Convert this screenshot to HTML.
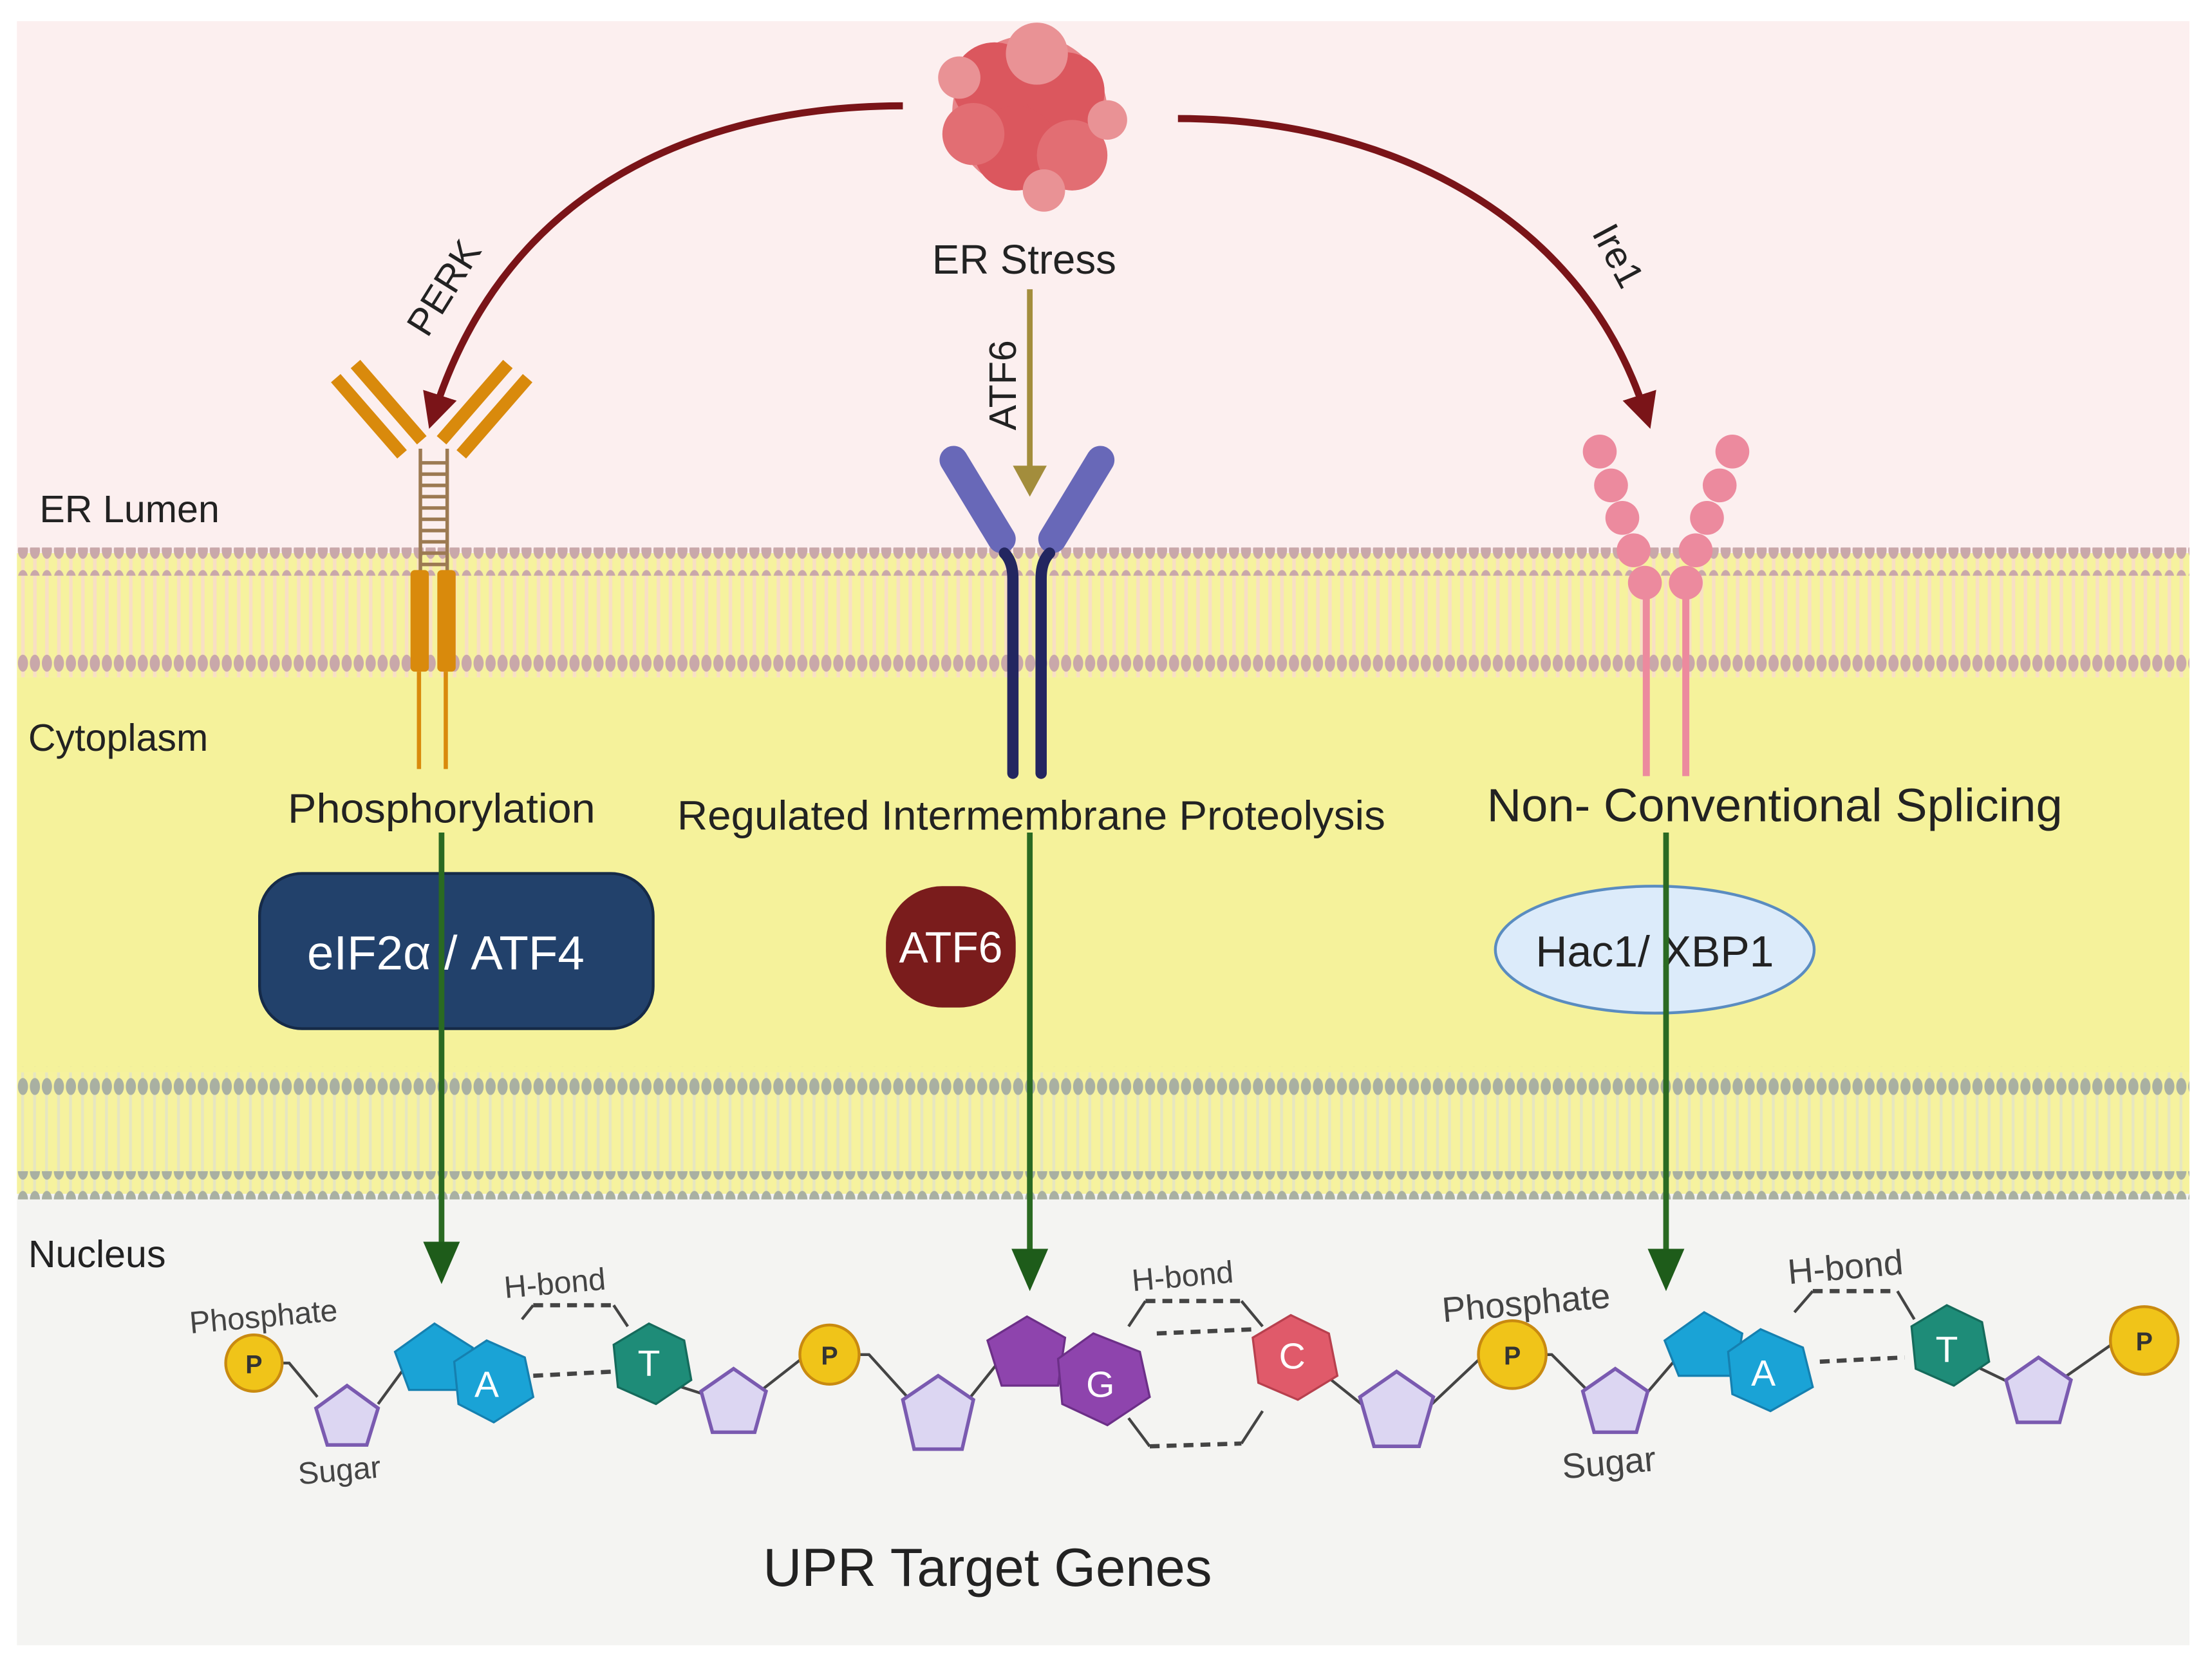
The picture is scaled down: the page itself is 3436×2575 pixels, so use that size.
<!DOCTYPE html>
<html><head><meta charset="utf-8"><style>
html,body{margin:0;padding:0;background:#fff;}
svg{display:block;}
text{font-family:"Liberation Sans",sans-serif;}
</style></head><body>
<svg width="3436" height="2575" viewBox="0 0 1568 1175" preserveAspectRatio="none" xmlns="http://www.w3.org/2000/svg">
<defs>
<pattern id="d1" x="12" y="0" width="8.5" height="20" patternUnits="userSpaceOnUse"><ellipse cx="4.25" cy="10" rx="3.6" ry="6" fill="#c9a8aa"/></pattern>
<pattern id="d2" x="12" y="0" width="8.5" height="20" patternUnits="userSpaceOnUse"><ellipse cx="4.25" cy="10" rx="3.6" ry="6" fill="#a9b0a2"/></pattern>
<pattern id="st1" x="12" y="0" width="8.5" height="10" patternUnits="userSpaceOnUse"><rect width="8.5" height="10" fill="#f6f29e"/><rect x="3" width="2.5" height="10" fill="#f8dfc4"/></pattern>
<pattern id="st2" x="12" y="0" width="8.5" height="10" patternUnits="userSpaceOnUse"><rect width="8.5" height="10" fill="#f6f29e"/><rect x="3" width="2" height="10" fill="#e6e6c0"/></pattern>
<marker id="ar" viewBox="0 0 10 10" refX="5" refY="5" markerWidth="5" markerHeight="5" orient="auto"><path d="M0,0 L10,5 L0,10 z" fill="#7a1418"/></marker>
</defs>
<rect x="12" y="15" width="1540" height="380" fill="#fcefef"/>
<rect x="12" y="392" width="1540" height="88" fill="url(#st1)"/>
<rect x="12" y="480" width="1540" height="280" fill="#f5f29b"/>
<rect x="12" y="760" width="1540" height="86" fill="url(#st2)"/>
<rect x="12" y="846" width="1540" height="320" fill="#f4f4f2"/>
<rect x="12" y="388" width="1540" height="20" fill="url(#d1)"/>
<rect x="12" y="462" width="1540" height="20" fill="url(#d1)"/>
<rect x="12" y="756" width="1540" height="20" fill="url(#d2)"/>
<rect x="12" y="830" width="1540" height="20" fill="url(#d2)"/>

<text x="28" y="370" font-size="27" fill="#222">ER Lumen</text>
<text x="20" y="532" font-size="27" fill="#222">Cytoplasm</text>
<text x="20" y="898" font-size="27" fill="#222">Nucleus</text>

<g fill="#d8474f" opacity="0.9">
<circle cx="730" cy="80" r="55" fill="#e57a7e"/>
<circle cx="705" cy="60" r="30"/><circle cx="755" cy="65" r="28"/><circle cx="720" cy="105" r="30"/>
<circle cx="760" cy="110" r="25" fill="#e06166"/><circle cx="690" cy="95" r="22" fill="#e06166"/><circle cx="735" cy="38" r="22" fill="#e8898c"/>
<circle cx="740" cy="135" r="15" fill="#e8898c"/><circle cx="680" cy="55" r="15" fill="#e8898c"/><circle cx="785" cy="85" r="14" fill="#e8898c"/>
</g>
<text x="726" y="194" font-size="29" fill="#222" text-anchor="middle">ER Stress</text>

<path d="M640,75 C500,75 360,130 308,292" fill="none" stroke="#7a1418" stroke-width="5" marker-end="url(#ar)"/>
<path d="M835,84 C980,84 1120,150 1166,292" fill="none" stroke="#7a1418" stroke-width="5" marker-end="url(#ar)"/>
<text x="0" y="0" font-size="27" fill="#222" transform="translate(303,240) rotate(-58)">PERK</text>
<text x="0" y="0" font-size="27" fill="#222" transform="translate(1128,165) rotate(62)">Ire1</text>
<line x1="730" y1="205" x2="730" y2="335" stroke="#a38d3c" stroke-width="4"/>
<path d="M718,330 L742,330 L730,352 z" fill="#a38d3c"/>
<text x="0" y="0" font-size="27" fill="#222" transform="translate(720,305) rotate(-90)">ATF6</text>

<g stroke="#d98a0c" stroke-width="9" stroke-linecap="butt">
<line x1="238" y1="268" x2="285" y2="322"/><line x1="252" y1="258" x2="299" y2="312"/>
<line x1="374" y1="268" x2="327" y2="322"/><line x1="360" y1="258" x2="313" y2="312"/>
</g>
<g stroke="#9c7a52" stroke-width="2.5">
<line x1="298" y1="318" x2="298" y2="405"/><line x1="317" y1="318" x2="317" y2="405"/>
<path d="M298,328h19M298,336h19M298,344h19M298,352h19M298,360h19M298,368h19M298,376h19M298,384h19M298,392h19M298,400h19"/>
</g>
<rect x="291" y="404" width="13" height="72" rx="3" fill="#d98a0c"/>
<rect x="310" y="404" width="13" height="72" rx="3" fill="#d98a0c"/>
<line x1="297" y1="476" x2="297" y2="545" stroke="#d98a0c" stroke-width="3"/>
<line x1="316" y1="476" x2="316" y2="545" stroke="#d98a0c" stroke-width="3"/>

<g stroke="#6868b8" stroke-width="20" stroke-linecap="round" fill="none">
<line x1="676" y1="326" x2="710" y2="382"/><line x1="780" y1="326" x2="746" y2="382"/>
</g>
<path d="M712,392 Q718,398 718,410 L718,548" stroke="#232660" stroke-width="8" fill="none" stroke-linecap="round"/>
<path d="M744,392 Q738,398 738,410 L738,548" stroke="#232660" stroke-width="8" fill="none" stroke-linecap="round"/>

<g fill="#ec8a9e">
<circle cx="1134" cy="320" r="12"/><circle cx="1142" cy="344" r="12"/><circle cx="1150" cy="367" r="12"/><circle cx="1158" cy="390" r="12"/><circle cx="1166" cy="413" r="12"/>
<circle cx="1228" cy="320" r="12"/><circle cx="1219" cy="344" r="12"/><circle cx="1210" cy="367" r="12"/><circle cx="1202" cy="390" r="12"/><circle cx="1195" cy="413" r="12"/>
</g>
<line x1="1167" y1="420" x2="1167" y2="550" stroke="#ec8a9e" stroke-width="5"/>
<line x1="1195" y1="420" x2="1195" y2="550" stroke="#ec8a9e" stroke-width="5"/>

<text x="313" y="583" font-size="29" fill="#222" text-anchor="middle" textLength="218" lengthAdjust="spacingAndGlyphs">Phosphorylation</text>
<text x="731" y="588" font-size="29" fill="#222" text-anchor="middle" textLength="502" lengthAdjust="spacingAndGlyphs">Regulated Intermembrane Proteolysis</text>
<text x="1258" y="582" font-size="33" fill="#222" text-anchor="middle" textLength="408" lengthAdjust="spacingAndGlyphs">Non- Conventional Splicing</text>

<rect x="184" y="619" width="279" height="110" rx="30" fill="#22416b" stroke="#152a48" stroke-width="2"/>
<text x="316" y="687" font-size="34" fill="#fff" text-anchor="middle">eIF2α / ATF4</text>
<rect x="628" y="628" width="92" height="86" rx="40" fill="#7a1c1c"/>
<text x="674" y="682" font-size="31" fill="#fff" text-anchor="middle">ATF6</text>
<ellipse cx="1173" cy="673" rx="113" ry="45" fill="#dcebfa" stroke="#5a8cc0" stroke-width="2"/>
<text x="1173" y="685" font-size="31" fill="#222" text-anchor="middle">Hac1/ XBP1</text>

<g stroke="#2a6a22" stroke-width="4">
<line x1="313" y1="590" x2="313" y2="885"/><line x1="730" y1="590" x2="730" y2="890"/><line x1="1181" y1="590" x2="1181" y2="890"/>
</g>
<g fill="#1e5c1a">
<path d="M300,880h26l-13,30z"/><path d="M717,885h26l-13,30z"/><path d="M1168,885h26l-13,30z"/>
</g>

<g stroke="#444" stroke-width="2" fill="none">
<path d="M198,966 L205,966 L225,990"/><path d="M268,995 L290,965"/>
<path d="M370,935 L378,925"/><path d="M435,925 L445,940"/>
<path d="M480,982 L505,990"/><path d="M540,985 L572,960"/><path d="M608,960 L616,960 L645,992"/>
<path d="M688,990 L712,960"/><path d="M800,940 L812,922"/><path d="M880,922 L895,940"/><path d="M800,1005 L815,1025"/><path d="M880,1023 L895,1000"/>
<path d="M940,975 L965,995"/><path d="M1015,995 L1050,962"/><path d="M1090,960 L1100,960 L1125,985"/>
<path d="M1165,990 L1195,955"/><path d="M1272,930 L1285,915"/><path d="M1345,915 L1357,935"/><path d="M1400,968 L1425,980"/><path d="M1465,975 L1498,952"/>
</g>
<g stroke="#444" stroke-width="3" stroke-dasharray="7,5">
<line x1="378" y1="925" x2="435" y2="925"/><line x1="812" y1="922" x2="880" y2="922"/><line x1="1285" y1="915" x2="1345" y2="915"/>
<line x1="378" y1="975" x2="435" y2="972"/><line x1="820" y1="945" x2="890" y2="942"/><line x1="815" y1="1025" x2="880" y2="1023"/><line x1="1290" y1="965" x2="1350" y2="962"/>
</g>
<g fill="#f0c419" stroke="#c98a10" stroke-width="2">
<circle cx="180" cy="966" r="20"/><circle cx="588" cy="960" r="21"/><circle cx="1072" cy="960" r="24"/><circle cx="1520" cy="950" r="24"/>
</g>
<g font-size="18" font-weight="bold" fill="#333" text-anchor="middle">
<text x="180" y="973">P</text><text x="588" y="967">P</text><text x="1072" y="967">P</text><text x="1520" y="957">P</text>
</g>
<g fill="#dcd6f2" stroke="#7a5ab0" stroke-width="2.5">
<polygon points="246,982 268,998 260,1024 232,1024 224,998"/>
<polygon points="520,970 543,986 535,1015 505,1015 497,986"/>
<polygon points="665,975 690,992 682,1027 648,1027 640,992"/>
<polygon points="990,972 1016,990 1006,1025 974,1025 964,990"/>
<polygon points="1145,970 1168,986 1160,1015 1130,1015 1122,986"/>
<polygon points="1445,962 1468,978 1460,1008 1430,1008 1422,978"/>
</g>
<g fill="#1aa3d6" stroke="#1580b0" stroke-width="1.5">
<polygon points="308,938 335,955 330,985 290,985 280,958"/>
<polygon points="345,950 372,962 378,990 350,1008 325,995 322,965"/>
<polygon points="1208,930 1235,945 1230,975 1190,975 1180,950"/>
<polygon points="1248,942 1278,955 1285,983 1255,1000 1228,988 1225,958"/>
</g>
<polygon points="460,938 485,950 490,978 465,995 438,983 435,953" fill="#1e8c78" stroke="#156b5c" stroke-width="1.5"/>
<polygon points="1380,925 1405,937 1410,965 1385,982 1358,970 1355,940" fill="#1e8c78" stroke="#156b5c" stroke-width="1.5"/>
<g fill="#8e44ad" stroke="#6c2f88" stroke-width="1.5">
<polygon points="728,933 755,948 750,982 710,982 700,950"/>
<polygon points="775,945 808,958 815,990 785,1010 753,995 750,963"/>
</g>
<polygon points="915,932 942,945 948,975 920,992 892,980 888,948" fill="#e05a6a" stroke="#b8404e" stroke-width="1.5"/>
<g font-size="26" fill="#fff" text-anchor="middle">
<text x="345" y="990">A</text><text x="460" y="975">T</text><text x="780" y="990">G</text><text x="916" y="970">C</text><text x="1250" y="982">A</text><text x="1380" y="965">T</text>
</g>
<g font-size="22" fill="#444">
<text x="135" y="945" transform="rotate(-5 135 945)">Phosphate</text>
<text x="212" y="1052" transform="rotate(-5 212 1052)">Sugar</text>
<text x="358" y="920" transform="rotate(-5 358 920)">H-bond</text>
<text x="803" y="915" transform="rotate(-5 803 915)">H-bond</text>
<text x="1023" y="937" font-size="25" transform="rotate(-5 1023 937)">Phosphate</text>
<text x="1108" y="1048" font-size="25" transform="rotate(-5 1108 1048)">Sugar</text>
<text x="1268" y="910" font-size="25" transform="rotate(-5 1268 910)">H-bond</text>
</g>
<text x="700" y="1124" font-size="38" fill="#222" text-anchor="middle">UPR Target Genes</text>
</svg>
</body></html>
